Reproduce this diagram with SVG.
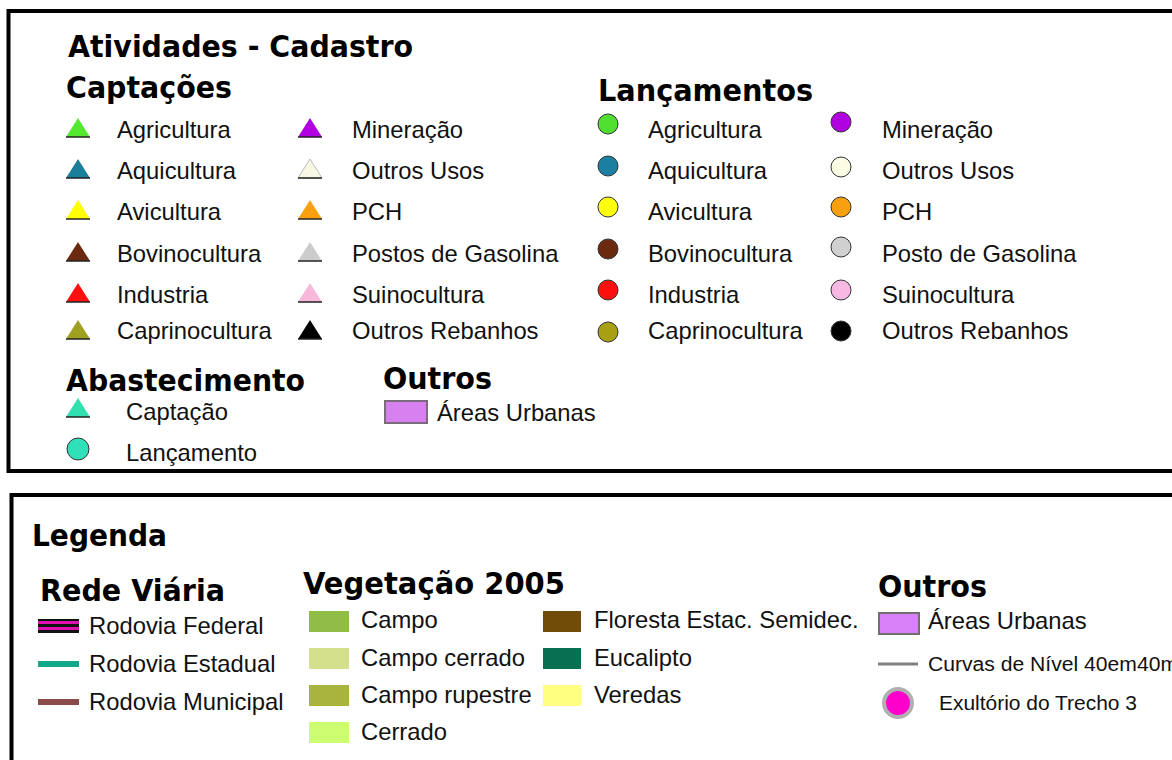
<svg xmlns="http://www.w3.org/2000/svg" width="1172" height="760" viewBox="0 0 1172 760">
<style>
.h{font-family:"DejaVu Sans","Liberation Sans",sans-serif;font-weight:bold;font-size:31px;fill:#000}
.t{font-family:"Liberation Sans",Arial,sans-serif;font-size:23.8px;fill:#111}
.s{font-family:"Liberation Sans",Arial,sans-serif;font-size:19.5px;fill:#111}
.frame{fill:none;stroke:#000;stroke-width:4}
.base{stroke:#222;stroke-width:1.5}
.dot{stroke:#333;stroke-width:1}
.sw{stroke:none}
</style>
<defs>
<g id="tri"><polygon points="0,-10 12,9 -12,9"/></g>
</defs>
<rect width="1172" height="760" fill="#fff"/>

<g id="frame-cadastro">
<rect class="frame" x="8.5" y="11" width="1180" height="460"/>
</g>
<g id="frame-legenda">
<rect class="frame" x="11.5" y="495" width="1180" height="300"/>
</g>

<g id="titulo-cadastro">
<text class="h" x="68" y="57" textLength="345" lengthAdjust="spacingAndGlyphs">Atividades - Cadastro</text>
</g>

<g id="captacoes">
<text class="h" x="66" y="98" textLength="166" lengthAdjust="spacingAndGlyphs">Captações</text>
<g id="cap-agricultura"><use href="#tri" x="78" y="128" fill="#55e830"/><line class="base" x1="66" y1="137" x2="90" y2="137"/><text class="t" x="117" y="138">Agricultura</text></g>
<g id="cap-aquicultura"><use href="#tri" x="78" y="169" fill="#1a7f9a"/><line class="base" x1="66" y1="178" x2="90" y2="178"/><text class="t" x="117" y="179">Aquicultura</text></g>
<g id="cap-avicultura"><use href="#tri" x="78" y="210" fill="#ffff00"/><line class="base" x1="66" y1="219" x2="90" y2="219"/><text class="t" x="117" y="220">Avicultura</text></g>
<g id="cap-bovinocultura"><use href="#tri" x="78" y="252" fill="#6b2a10"/><line class="base" x1="66" y1="261" x2="90" y2="261"/><text class="t" x="117" y="262">Bovinocultura</text></g>
<g id="cap-industria"><use href="#tri" x="78" y="293" fill="#ff1010"/><line class="base" x1="66" y1="302" x2="90" y2="302"/><text class="t" x="117" y="303">Industria</text></g>
<g id="cap-caprinocultura"><use href="#tri" x="78" y="330" fill="#a0a020"/><line class="base" x1="66" y1="339" x2="90" y2="339"/><text class="t" x="117" y="339">Caprinocultura</text></g>
<g id="cap-mineracao"><use href="#tri" x="310" y="128" fill="#b000e0"/><line class="base" x1="298" y1="137" x2="322" y2="137"/><text class="t" x="352" y="138">Mineração</text></g>
<g id="cap-outros-usos"><polygon points="310,159 322,178 298,178" fill="#f8f8e4" stroke="#bbb" stroke-width="1"/><line class="base" x1="298" y1="178" x2="322" y2="178"/><text class="t" x="352" y="179">Outros Usos</text></g>
<g id="cap-pch"><use href="#tri" x="310" y="210" fill="#f8a010"/><line class="base" x1="298" y1="219" x2="322" y2="219"/><text class="t" x="352" y="220">PCH</text></g>
<g id="cap-postos"><use href="#tri" x="310" y="252" fill="#cccccc"/><line class="base" x1="298" y1="261" x2="322" y2="261"/><text class="t" x="352" y="262">Postos de Gasolina</text></g>
<g id="cap-suinocultura"><use href="#tri" x="310" y="293" fill="#f8b8dc"/><line class="base" x1="298" y1="302" x2="322" y2="302"/><text class="t" x="352" y="303">Suinocultura</text></g>
<g id="cap-outros-rebanhos"><use href="#tri" x="310" y="330" fill="#000"/><line class="base" x1="298" y1="339" x2="322" y2="339"/><text class="t" x="352" y="339">Outros Rebanhos</text></g>
</g>

<g id="lancamentos">
<text class="h" x="598" y="101" textLength="215" lengthAdjust="spacingAndGlyphs">Lançamentos</text>
<g id="lan-agricultura"><circle class="dot" cx="608" cy="124" r="10" fill="#50e030"/><text class="t" x="648" y="138">Agricultura</text></g>
<g id="lan-aquicultura"><circle class="dot" cx="608" cy="166" r="10" fill="#1a7fa0"/><text class="t" x="648" y="179">Aquicultura</text></g>
<g id="lan-avicultura"><circle class="dot" cx="608" cy="207" r="10" fill="#ffff10"/><text class="t" x="648" y="220">Avicultura</text></g>
<g id="lan-bovinocultura"><circle class="dot" cx="608" cy="249" r="10" fill="#6b2a10"/><text class="t" x="648" y="262">Bovinocultura</text></g>
<g id="lan-industria"><circle class="dot" cx="608" cy="290" r="10" fill="#ff1010"/><text class="t" x="648" y="303">Industria</text></g>
<g id="lan-caprinocultura"><circle class="dot" cx="608" cy="332" r="10" fill="#a8a010"/><text class="t" x="648" y="339">Caprinocultura</text></g>
<g id="lan-mineracao"><circle class="dot" cx="841" cy="122" r="10" fill="#b000e0"/><text class="t" x="882" y="138">Mineração</text></g>
<g id="lan-outros-usos"><circle class="dot" cx="841" cy="167" r="10" fill="#fcfce4"/><text class="t" x="882" y="179">Outros Usos</text></g>
<g id="lan-pch"><circle class="dot" cx="841" cy="207" r="10" fill="#f8a010"/><text class="t" x="882" y="220">PCH</text></g>
<g id="lan-posto"><circle class="dot" cx="841" cy="247" r="10" fill="#d0d0d0"/><text class="t" x="882" y="262">Posto de Gasolina</text></g>
<g id="lan-suinocultura"><circle class="dot" cx="841" cy="290" r="10" fill="#f8b8e4"/><text class="t" x="882" y="303">Suinocultura</text></g>
<g id="lan-outros-rebanhos"><circle class="dot" cx="841" cy="331" r="10" fill="#000"/><text class="t" x="882" y="339">Outros Rebanhos</text></g>
</g>

<g id="abastecimento">
<text class="h" x="66" y="391" textLength="239" lengthAdjust="spacingAndGlyphs">Abastecimento</text>
<g id="abs-captacao"><use href="#tri" x="78" y="408" fill="#30e0b0"/><line class="base" x1="66" y1="417" x2="90" y2="417"/><text class="t" x="126" y="420">Captação</text></g>
<g id="abs-lancamento"><circle class="dot" cx="78" cy="449" r="11" fill="#30e0b8"/><text class="t" x="126" y="461">Lançamento</text></g>
</g>

<g id="outros-cadastro">
<text class="h" x="383" y="389" textLength="109" lengthAdjust="spacingAndGlyphs">Outros</text>
<g id="out-areas-urbanas"><rect x="385" y="401" width="42" height="22" fill="#d880f0" stroke="#7a6a7a" stroke-width="2"/><text class="t" x="437" y="421">Áreas Urbanas</text></g>
</g>

<g id="titulo-legenda">
<text class="h" x="32" y="546" textLength="135" lengthAdjust="spacingAndGlyphs">Legenda</text>
</g>

<g id="rede-viaria">
<text class="h" x="40" y="601" textLength="185" lengthAdjust="spacingAndGlyphs">Rede Viária</text>
<g id="rod-federal">
<rect x="38" y="619" width="41" height="14" fill="#111"/>
<rect x="38" y="621" width="41" height="3" fill="#e010b0"/>
<rect x="38" y="627" width="41" height="3" fill="#e010b0"/>
<text class="t" x="89" y="634">Rodovia Federal</text></g>
<g id="rod-estadual"><rect x="38" y="661" width="41" height="6" fill="#10a888"/><text class="t" x="89" y="672">Rodovia Estadual</text></g>
<g id="rod-municipal"><rect x="38" y="699" width="41" height="6" fill="#8b4a4a"/><text class="t" x="89" y="710">Rodovia Municipal</text></g>
</g>

<g id="vegetacao">
<text class="h" x="303" y="594" textLength="262" lengthAdjust="spacingAndGlyphs">Vegetação 2005</text>
<g id="veg-campo"><rect class="sw" x="309" y="611" width="40" height="21" fill="#90bc48"/><text class="t" x="361" y="628">Campo</text></g>
<g id="veg-campo-cerrado"><rect class="sw" x="309" y="648" width="40" height="21" fill="#d4e08c"/><text class="t" x="361" y="666">Campo cerrado</text></g>
<g id="veg-campo-rupestre"><rect class="sw" x="309" y="685" width="40" height="21" fill="#a8b43c"/><text class="t" x="361" y="703">Campo rupestre</text></g>
<g id="veg-cerrado"><rect class="sw" x="309" y="722" width="40" height="21" fill="#ccfc70"/><text class="t" x="361" y="740">Cerrado</text></g>
<g id="veg-floresta"><rect class="sw" x="543" y="611" width="38" height="21" fill="#704c08"/><text class="t" x="594" y="628">Floresta Estac. Semidec.</text></g>
<g id="veg-eucalipto"><rect class="sw" x="543" y="648" width="38" height="21" fill="#087050"/><text class="t" x="594" y="666">Eucalipto</text></g>
<g id="veg-veredas"><rect class="sw" x="543" y="685" width="38" height="21" fill="#ffff80"/><text class="t" x="594" y="703">Veredas</text></g>
</g>

<g id="outros-legenda">
<text class="h" x="878" y="597" textLength="109" lengthAdjust="spacingAndGlyphs">Outros</text>
<g id="leg-areas-urbanas"><rect x="879" y="613" width="40" height="21" fill="#d880f8" stroke="#707070" stroke-width="2"/><text class="t" x="928" y="629">Áreas Urbanas</text></g>
<g id="leg-curvas"><line x1="878" y1="664" x2="918" y2="664" stroke="#808080" stroke-width="3"/><text class="s" x="928" y="671" textLength="250" lengthAdjust="spacingAndGlyphs">Curvas de Nível 40em40m</text></g>
<g id="leg-exultorio"><circle cx="898" cy="703" r="14" fill="#ff00cc" stroke="#b0b0b0" stroke-width="4"/><text class="s" x="939" y="710" textLength="198" lengthAdjust="spacingAndGlyphs">Exultório do Trecho 3</text></g>
</g>
</svg>
